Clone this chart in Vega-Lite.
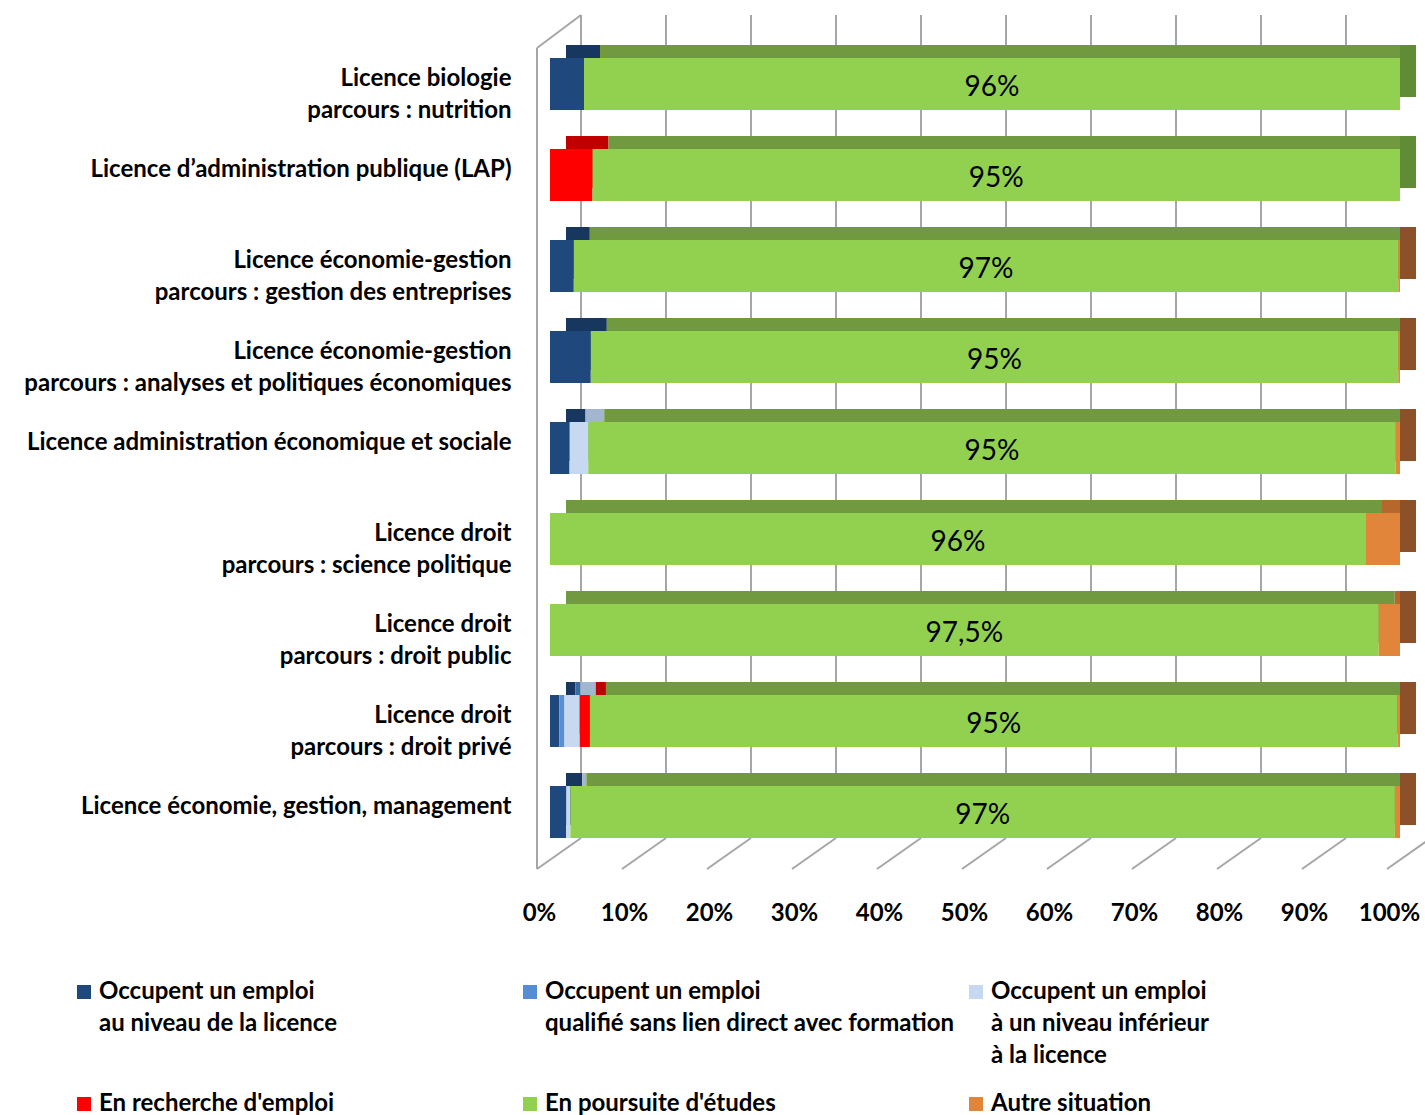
{
  "$schema": "https://vega.github.io/schema/vega-lite/v6.json",
  "autosize": "none",
  "width": 850,
  "height": 854,
  "padding": {"left": 550, "top": 15, "right": 25, "bottom": 246},
  "background": "white",
  "config": {
    "view": {"stroke": null},
    "font": "Lato",
    "locale": {"number": {"decimal": ",", "thousands": " ", "grouping": [3], "currency": ["", " €"], "percent": "%"}},
    "axisX": {"title": null, "grid": false, "ticks": false, "domain": false, "labelFont": "Lato", "labelFontSize": 24, "labelFontWeight": "bold", "labelColor": "#000000", "labelPadding": 32, "labelOffset": -11, "labelFlush": false, "labelOverlap": false},
    "axisY": {"title": null, "grid": false, "ticks": false, "domain": false, "labelFont": "Lato", "labelFontSize": 24, "labelFontWeight": "bold", "labelColor": "#000000", "labelAlign": "right", "labelBaseline": "top", "labelOffset": -17, "labelLineHeight": 32, "labelPadding": 39, "labelLimit": 0}
  },
  "datasets": {
    "parts": [
      {"formation": "Licence biologie\nparcours : nutrition", "situation": "Occupent un emploi\nau niveau de la licence", "part": 0.04},
      {"formation": "Licence biologie\nparcours : nutrition", "situation": "En poursuite d'études", "part": 0.96},
      {"formation": "Licence d’administration publique (LAP)", "situation": "En recherche d'emploi", "part": 0.05},
      {"formation": "Licence d’administration publique (LAP)", "situation": "En poursuite d'études", "part": 0.95},
      {"formation": "Licence économie-gestion\nparcours : gestion des entreprises", "situation": "Occupent un emploi\nau niveau de la licence", "part": 0.028},
      {"formation": "Licence économie-gestion\nparcours : gestion des entreprises", "situation": "En poursuite d'études", "part": 0.97},
      {"formation": "Licence économie-gestion\nparcours : gestion des entreprises", "situation": "Autre situation", "part": 0.002},
      {"formation": "Licence économie-gestion\nparcours : analyses et politiques économiques", "situation": "Occupent un emploi\nau niveau de la licence", "part": 0.048},
      {"formation": "Licence économie-gestion\nparcours : analyses et politiques économiques", "situation": "En poursuite d'études", "part": 0.95},
      {"formation": "Licence économie-gestion\nparcours : analyses et politiques économiques", "situation": "Autre situation", "part": 0.002},
      {"formation": "Licence administration économique et sociale", "situation": "Occupent un emploi\nau niveau de la licence", "part": 0.023},
      {"formation": "Licence administration économique et sociale", "situation": "Occupent un emploi\nà un niveau inférieur\nà la licence", "part": 0.022},
      {"formation": "Licence administration économique et sociale", "situation": "En poursuite d'études", "part": 0.95},
      {"formation": "Licence administration économique et sociale", "situation": "Autre situation", "part": 0.005},
      {"formation": "Licence droit\nparcours : science politique", "situation": "En poursuite d'études", "part": 0.96},
      {"formation": "Licence droit\nparcours : science politique", "situation": "Autre situation", "part": 0.04},
      {"formation": "Licence droit\nparcours : droit public", "situation": "En poursuite d'études", "part": 0.975},
      {"formation": "Licence droit\nparcours : droit public", "situation": "Autre situation", "part": 0.025},
      {"formation": "Licence droit\nparcours : droit privé", "situation": "Occupent un emploi\nau niveau de la licence", "part": 0.011},
      {"formation": "Licence droit\nparcours : droit privé", "situation": "Occupent un emploi\nqualifié sans lien direct avec formation", "part": 0.006},
      {"formation": "Licence droit\nparcours : droit privé", "situation": "Occupent un emploi\nà un niveau inférieur\nà la licence", "part": 0.018},
      {"formation": "Licence droit\nparcours : droit privé", "situation": "En recherche d'emploi", "part": 0.012},
      {"formation": "Licence droit\nparcours : droit privé", "situation": "En poursuite d'études", "part": 0.95},
      {"formation": "Licence droit\nparcours : droit privé", "situation": "Autre situation", "part": 0.003},
      {"formation": "Licence économie, gestion, management", "situation": "Occupent un emploi\nau niveau de la licence", "part": 0.019},
      {"formation": "Licence économie, gestion, management", "situation": "Occupent un emploi\nà un niveau inférieur\nà la licence", "part": 0.005},
      {"formation": "Licence économie, gestion, management", "situation": "En poursuite d'études", "part": 0.97},
      {"formation": "Licence économie, gestion, management", "situation": "Autre situation", "part": 0.006}
    ],
    "situations": [
      {"situation": "Occupent un emploi\nau niveau de la licence", "rang": 1},
      {"situation": "Occupent un emploi\nqualifié sans lien direct avec formation", "rang": 2},
      {"situation": "Occupent un emploi\nà un niveau inférieur\nà la licence", "rang": 3},
      {"situation": "En recherche d'emploi", "rang": 4},
      {"situation": "En poursuite d'études", "rang": 5},
      {"situation": "Autre situation", "rang": 6}
    ],
    "graduations": [
      {"t": 0}, {"t": 0.1}, {"t": 0.2}, {"t": 0.3}, {"t": 0.4}, {"t": 0.5},
      {"t": 0.6}, {"t": 0.7}, {"t": 0.8}, {"t": 0.9}, {"t": 1}
    ],
    "coin": [{"t": 0}]
  },
  "layer": [
    {
      "data": {"name": "graduations"},
      "mark": {"type": "rule", "color": "#a6a6a6", "strokeWidth": 2, "xOffset": 31, "yOffset": -43},
      "encoding": {
        "x": {"field": "t", "type": "quantitative", "scale": {"domain": [0, 1], "nice": false},
              "axis": {"title": null, "format": "%", "values": [0, 0.1, 0.2, 0.3, 0.4, 0.5, 0.6, 0.7, 0.8, 0.9, 1]}},
        "y": {"datum": "Licence biologie\nparcours : nutrition", "type": "nominal", "bandPosition": 0,
              "axis": {"title": null, "labelExpr": "split(datum.label, '\\n')"},
              "scale": {"domain": ["Licence biologie\nparcours : nutrition", "Licence d’administration publique (LAP)", "Licence économie-gestion\nparcours : gestion des entreprises", "Licence économie-gestion\nparcours : analyses et politiques économiques", "Licence administration économique et sociale", "Licence droit\nparcours : science politique", "Licence droit\nparcours : droit public", "Licence droit\nparcours : droit privé", "Licence économie, gestion, management"], "paddingInner": 0.4286, "paddingOuter": 0.4066, "align": 0.581}},
        "y2": {"datum": "Licence économie, gestion, management", "bandPosition": 1}
      }
    },
    {
      "data": {"name": "graduations"},
      "mark": {"type": "rule", "color": "#a6a6a6", "strokeWidth": 2, "xOffset": -13, "x2Offset": 31, "yOffset": 31},
      "encoding": {
        "x": {"field": "t", "type": "quantitative", "scale": {"domain": [0, 1], "nice": false},
              "axis": {"title": null, "format": "%", "values": [0, 0.1, 0.2, 0.3, 0.4, 0.5, 0.6, 0.7, 0.8, 0.9, 1]}},
        "x2": {"field": "t"},
        "y": {"datum": "Licence économie, gestion, management", "type": "nominal", "bandPosition": 1,
              "axis": {"title": null, "labelExpr": "split(datum.label, '\\n')"},
              "scale": {"domain": ["Licence biologie\nparcours : nutrition", "Licence d’administration publique (LAP)", "Licence économie-gestion\nparcours : gestion des entreprises", "Licence économie-gestion\nparcours : analyses et politiques économiques", "Licence administration économique et sociale", "Licence droit\nparcours : science politique", "Licence droit\nparcours : droit public", "Licence droit\nparcours : droit privé", "Licence économie, gestion, management"], "paddingInner": 0.4286, "paddingOuter": 0.4066, "align": 0.581}},
        "y2": {"datum": "Licence économie, gestion, management", "bandPosition": 1}
      }
    },
    {
      "data": {"name": "coin"},
      "mark": {"type": "rule", "color": "#a6a6a6", "strokeWidth": 2, "xOffset": -13, "yOffset": -10, "y2Offset": 31},
      "encoding": {
        "x": {"field": "t", "type": "quantitative", "scale": {"domain": [0, 1], "nice": false},
              "axis": {"title": null, "format": "%", "values": [0, 0.1, 0.2, 0.3, 0.4, 0.5, 0.6, 0.7, 0.8, 0.9, 1]}},
        "y": {"datum": "Licence biologie\nparcours : nutrition", "type": "nominal", "bandPosition": 0,
              "axis": {"title": null, "labelExpr": "split(datum.label, '\\n')"},
              "scale": {"domain": ["Licence biologie\nparcours : nutrition", "Licence d’administration publique (LAP)", "Licence économie-gestion\nparcours : gestion des entreprises", "Licence économie-gestion\nparcours : analyses et politiques économiques", "Licence administration économique et sociale", "Licence droit\nparcours : science politique", "Licence droit\nparcours : droit public", "Licence droit\nparcours : droit privé", "Licence économie, gestion, management"], "paddingInner": 0.4286, "paddingOuter": 0.4066, "align": 0.581}},
        "y2": {"datum": "Licence économie, gestion, management", "bandPosition": 1}
      }
    },
    {
      "data": {"name": "coin"},
      "mark": {"type": "rule", "color": "#a6a6a6", "strokeWidth": 2, "xOffset": -13, "x2Offset": 31, "yOffset": -10, "y2Offset": -43},
      "encoding": {
        "x": {"field": "t", "type": "quantitative", "scale": {"domain": [0, 1], "nice": false},
              "axis": {"title": null, "format": "%", "values": [0, 0.1, 0.2, 0.3, 0.4, 0.5, 0.6, 0.7, 0.8, 0.9, 1]}},
        "x2": {"field": "t"},
        "y": {"datum": "Licence biologie\nparcours : nutrition", "type": "nominal", "bandPosition": 0,
              "axis": {"title": null, "labelExpr": "split(datum.label, '\\n')"},
              "scale": {"domain": ["Licence biologie\nparcours : nutrition", "Licence d’administration publique (LAP)", "Licence économie-gestion\nparcours : gestion des entreprises", "Licence économie-gestion\nparcours : analyses et politiques économiques", "Licence administration économique et sociale", "Licence droit\nparcours : science politique", "Licence droit\nparcours : droit public", "Licence droit\nparcours : droit privé", "Licence économie, gestion, management"], "paddingInner": 0.4286, "paddingOuter": 0.4066, "align": 0.581}},
        "y2": {"datum": "Licence biologie\nparcours : nutrition", "bandPosition": 0}
      }
    },
    {
      "data": {"name": "parts"},
      "transform": [{"lookup": "situation", "from": {"data": {"name": "situations"}, "key": "situation", "fields": ["rang"]}}],
      "mark": {"type": "bar", "xOffset": 16, "yOffset": -13},
      "encoding": {
        "x": {"field": "part", "type": "quantitative", "stack": "zero", "scale": {"domain": [0, 1], "nice": false},
              "axis": {"title": null, "format": "%", "values": [0, 0.1, 0.2, 0.3, 0.4, 0.5, 0.6, 0.7, 0.8, 0.9, 1]}},
        "y": {"field": "formation", "type": "nominal",
              "axis": {"title": null, "labelExpr": "split(datum.label, '\\n')"},
              "scale": {"domain": ["Licence biologie\nparcours : nutrition", "Licence d’administration publique (LAP)", "Licence économie-gestion\nparcours : gestion des entreprises", "Licence économie-gestion\nparcours : analyses et politiques économiques", "Licence administration économique et sociale", "Licence droit\nparcours : science politique", "Licence droit\nparcours : droit public", "Licence droit\nparcours : droit privé", "Licence économie, gestion, management"], "paddingInner": 0.4286, "paddingOuter": 0.4066, "align": 0.581}},
        "color": {"field": "situation", "type": "nominal", "legend": null,
                  "scale": {"domain": ["Occupent un emploi\nau niveau de la licence", "Occupent un emploi\nqualifié sans lien direct avec formation", "Occupent un emploi\nà un niveau inférieur\nà la licence", "En recherche d'emploi", "En poursuite d'études", "Autre situation"],
                            "range": ["#17375e", "#3a6aa8", "#a3b6cf", "#c00000", "#71993f", "#b5672c"]}},
        "order": {"field": "rang", "type": "quantitative"}
      }
    },
    {
      "data": {"name": "parts"},
      "transform": [{"lookup": "situation", "from": {"data": {"name": "situations"}, "key": "situation", "fields": ["rang"]}}, {"filter": "datum.rang == 5"}],
      "mark": {"type": "bar", "yOffset": -13, "x2Offset": 16, "color": "#5f8c34"},
      "encoding": {
        "x": {"datum": 1, "type": "quantitative", "scale": {"domain": [0, 1], "nice": false},
              "axis": {"title": null, "format": "%", "values": [0, 0.1, 0.2, 0.3, 0.4, 0.5, 0.6, 0.7, 0.8, 0.9, 1]}},
        "x2": {"datum": 1},
        "y": {"field": "formation", "type": "nominal",
              "axis": {"title": null, "labelExpr": "split(datum.label, '\\n')"},
              "scale": {"domain": ["Licence biologie\nparcours : nutrition", "Licence d’administration publique (LAP)", "Licence économie-gestion\nparcours : gestion des entreprises", "Licence économie-gestion\nparcours : analyses et politiques économiques", "Licence administration économique et sociale", "Licence droit\nparcours : science politique", "Licence droit\nparcours : droit public", "Licence droit\nparcours : droit privé", "Licence économie, gestion, management"], "paddingInner": 0.4286, "paddingOuter": 0.4066, "align": 0.581}}
      }
    },
    {
      "data": {"name": "parts"},
      "transform": [{"lookup": "situation", "from": {"data": {"name": "situations"}, "key": "situation", "fields": ["rang"]}}, {"filter": "datum.rang == 6 && datum.part > 0"}],
      "mark": {"type": "bar", "yOffset": -13, "x2Offset": 16, "color": "#8c5128"},
      "encoding": {
        "x": {"datum": 1, "type": "quantitative", "scale": {"domain": [0, 1], "nice": false},
              "axis": {"title": null, "format": "%", "values": [0, 0.1, 0.2, 0.3, 0.4, 0.5, 0.6, 0.7, 0.8, 0.9, 1]}},
        "x2": {"datum": 1},
        "y": {"field": "formation", "type": "nominal",
              "axis": {"title": null, "labelExpr": "split(datum.label, '\\n')"},
              "scale": {"domain": ["Licence biologie\nparcours : nutrition", "Licence d’administration publique (LAP)", "Licence économie-gestion\nparcours : gestion des entreprises", "Licence économie-gestion\nparcours : analyses et politiques économiques", "Licence administration économique et sociale", "Licence droit\nparcours : science politique", "Licence droit\nparcours : droit public", "Licence droit\nparcours : droit privé", "Licence économie, gestion, management"], "paddingInner": 0.4286, "paddingOuter": 0.4066, "align": 0.581}}
      }
    },
    {
      "data": {"name": "parts"},
      "transform": [{"lookup": "situation", "from": {"data": {"name": "situations"}, "key": "situation", "fields": ["rang"]}}],
      "mark": {"type": "bar"},
      "encoding": {
        "x": {"field": "part", "type": "quantitative", "stack": "zero", "scale": {"domain": [0, 1], "nice": false},
              "axis": {"title": null, "format": "%", "values": [0, 0.1, 0.2, 0.3, 0.4, 0.5, 0.6, 0.7, 0.8, 0.9, 1]}},
        "y": {"field": "formation", "type": "nominal",
              "axis": {"title": null, "labelExpr": "split(datum.label, '\\n')"},
              "scale": {"domain": ["Licence biologie\nparcours : nutrition", "Licence d’administration publique (LAP)", "Licence économie-gestion\nparcours : gestion des entreprises", "Licence économie-gestion\nparcours : analyses et politiques économiques", "Licence administration économique et sociale", "Licence droit\nparcours : science politique", "Licence droit\nparcours : droit public", "Licence droit\nparcours : droit privé", "Licence économie, gestion, management"], "paddingInner": 0.4286, "paddingOuter": 0.4066, "align": 0.581}},
        "color": {"field": "situation", "type": "nominal",
                  "scale": {"domain": ["Occupent un emploi\nau niveau de la licence", "Occupent un emploi\nqualifié sans lien direct avec formation", "Occupent un emploi\nà un niveau inférieur\nà la licence", "En recherche d'emploi", "En poursuite d'études", "Autre situation"],
                            "range": ["#1f497d", "#558ed5", "#c6d9f1", "#ff0000", "#92d050", "#e0853a"]},
                  "legend": {"title": null, "orient": "none", "legendX": -478, "legendY": 965, "columns": 3, "direction": "horizontal", "gridAlign": "all", "columnPadding": 9, "rowPadding": 24, "padding": 0,
                             "symbolType": "square", "symbolSize": 196, "symbolStrokeWidth": 0, "labelFont": "Lato", "labelFontSize": 24, "labelFontWeight": "bold", "labelColor": "#000000", "labelLimit": 0, "labelOffset": 3,
                             "labelExpr": "length(split(datum.label, '\\n')) == 2 ? split(datum.label + '\\n ', '\\n') : split(datum.label, '\\n')",
                             "encode": {"labels": {"update": {"lineHeight": {"value": 32}}}}}},
        "order": {"field": "rang", "type": "quantitative"}
      }
    },
    {
      "data": {"name": "parts"},
      "transform": [{"lookup": "situation", "from": {"data": {"name": "situations"}, "key": "situation", "fields": ["rang"]}}],
      "mark": {"type": "text", "font": "Lato", "fontSize": 28, "color": "#000000", "baseline": "middle", "align": "center", "dy": 4},
      "encoding": {
        "x": {"field": "part", "type": "quantitative", "stack": "zero", "bandPosition": 0.5, "scale": {"domain": [0, 1], "nice": false},
              "axis": {"title": null, "format": "%", "values": [0, 0.1, 0.2, 0.3, 0.4, 0.5, 0.6, 0.7, 0.8, 0.9, 1]}},
        "y": {"field": "formation", "type": "nominal",
              "axis": {"title": null, "labelExpr": "split(datum.label, '\\n')"},
              "scale": {"domain": ["Licence biologie\nparcours : nutrition", "Licence d’administration publique (LAP)", "Licence économie-gestion\nparcours : gestion des entreprises", "Licence économie-gestion\nparcours : analyses et politiques économiques", "Licence administration économique et sociale", "Licence droit\nparcours : science politique", "Licence droit\nparcours : droit public", "Licence droit\nparcours : droit privé", "Licence économie, gestion, management"], "paddingInner": 0.4286, "paddingOuter": 0.4066, "align": 0.581}},
        "detail": {"field": "situation", "type": "nominal"},
        "order": {"field": "rang", "type": "quantitative"},
        "text": {"condition": {"test": "datum.rang == 5", "field": "part", "type": "quantitative", "format": ".3~%"}, "value": ""}
      }
    }
  ],
  "resolve": {"scale": {"color": "independent"}}
}
